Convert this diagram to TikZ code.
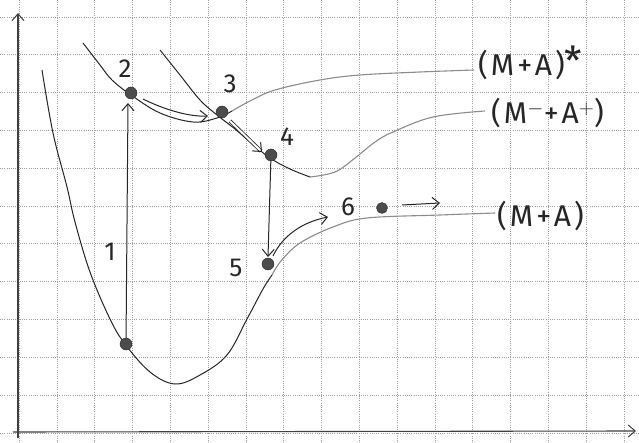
\documentclass[tikz,border=0pt]{standalone}
\usepackage{fontspec}
\setmainfont{Fira Sans}
\usetikzlibrary{arrows.meta}
\begin{document}
\begin{tikzpicture}[x=1pt,y=-1pt,
  gridline/.style={gray!75, line width=0.6pt, dash pattern=on 1pt off 1.2pt},
  axis/.style={line width=1.1pt, black!75},
  ink/.style={line width=1pt, black!85},
  pencil/.style={line width=1.1pt, black!45},
  dotnode/.style={circle, fill=black!70, draw=black!85, inner sep=0pt, minimum size=12pt},
  num/.style={font=\fontsize{26}{28}\selectfont, text=black!85, inner sep=0pt},
  lbl/.style={font=\fontsize{30}{32}\selectfont\addfontfeature{LetterSpace=10}, text=black!85, inner sep=0pt, anchor=west},
  tip/.style={-{Straight Barb[length=7pt,width=12pt,line width=1pt]}},
  ]
\fill[white] (0,0) rectangle (639,443);
\useasboundingbox (0,0) rectangle (639,443);
% grid
\foreach \i in {0,...,16} \draw[gridline] ({19+37.8*\i},0) -- ({19+37.8*\i},443);
\foreach \j in {0,...,11} \draw[gridline] (0,{17+37.8*\j}) -- (639,{17+37.8*\j});
% axes
\coordinate (ybot) at (18,438);
\coordinate (ytop) at (18,13);
\coordinate (xbeg) at (13,432);
\coordinate (xend) at (636,431);
\draw[axis, tip] (ybot) -- (ytop);
\draw[axis, tip] (xbeg) -- (xend);
% ground state curve (M+A)
\draw[ink] plot[smooth, tension=0.6] coordinates {(42,70) (53,133) (67,187) (75,222) (90,272) (110,319) (125,344) (150,372) (175,384) (200,375) (227,355) (247,319) (263,289) (272,275)};
\draw[pencil] plot[smooth, tension=0.6] coordinates {(272,275) (281,261) (300,243) (333,227) (367,218) (440,215) (495,213)};
% excited curve (M+A)*
\draw[ink] plot[smooth, tension=0.6] coordinates {(83,43) (100,65) (112,80) (131,95) (160,113) (193,122) (217,118) (232,111)};
\draw[pencil] plot[smooth, tension=0.6] coordinates {(232,111) (250,101) (275,90) (320,80) (360,75) (420,72) (474,70)};
% ionic curve (M- + A+)
\draw[ink] plot[smooth, tension=0.6] coordinates {(160,50) (180,75) (200,100) (217,115) (235,129) (250,142) (270,158) (290,169) (310,177)};
\draw[pencil] plot[smooth, tension=0.6] coordinates {(310,177) (335,172) (355,158) (375,142) (393,132) (433,117) (485,111)};
% dots
\node[dotnode] (d1) at (126,344) {};
\node[dotnode] (d2) at (131,93) {};
\node[dotnode] (d3) at (222,112) {};
\node[dotnode] (d4) at (271,155) {};
\node[dotnode] (d5) at (268,264) {};
\node[dotnode, minimum size=11pt] (d6) at (382,208) {};
% numbers
\node[num] (l1) at (110,252) {1};
\node[num] (l2) at (125,69) {2};
\node[num] (l3) at (230,84) {3};
\node[num] (l4) at (287,137) {4};
\node[num] (l5) at (236,268) {5};
\node[num] (l6) at (348,207) {6};
% arrows
\coordinate (t12) at (128,103);
\draw[ink, tip] (d1) -- (t12);
\coordinate (s23) at (143,99);
\coordinate (t23) at (208,116);
\draw[ink, tip] (s23) .. controls (165,110) and (190,117) .. (t23);
\coordinate (s34) at (230,121);
\coordinate (t34) at (262,152);
\draw[ink, line width=0.8pt, double, double distance=2pt, tip] (s34) -- (t34);
\coordinate (t45) at (268,257);
\draw[ink, tip] (d4) -- (t45);
\coordinate (s56) at (273,256);
\coordinate (t56) at (328,217);
\draw[ink, tip] (s56) .. controls (283,235) and (303,222) .. (t56);
\coordinate (s6) at (402,205);
\coordinate (t6) at (440,203);
\draw[ink, tip] (s6) -- (t6);
% curve labels
\node[lbl] (lex) at (478,63) {(M+A){\fontsize{40}{40}\selectfont *}};
\node[lbl] (lion) at (491,113) {(M$^{-}$+A$^{+}$)};
\node[lbl] (lgr) at (497,216) {(M+A)};
\end{tikzpicture}
\end{document}
